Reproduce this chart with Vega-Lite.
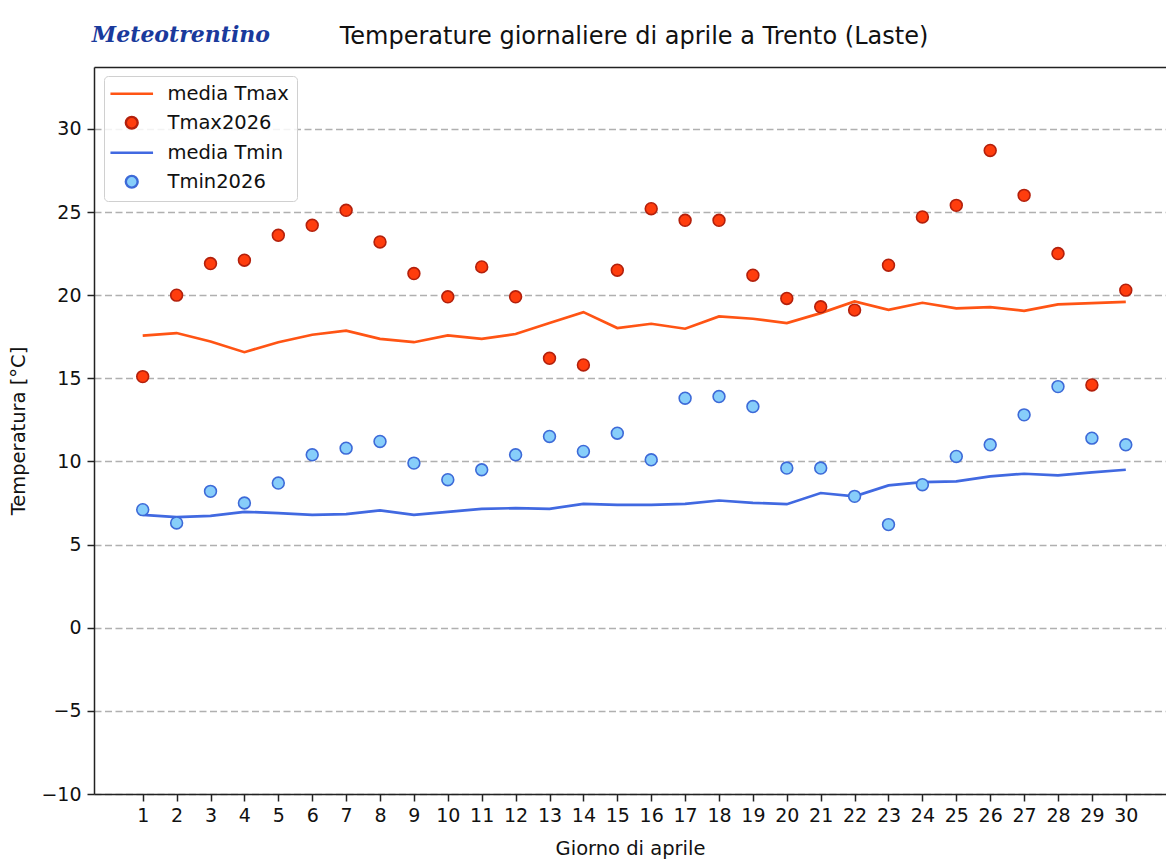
{
  "$schema": "https://vega.github.io/schema/vega-lite/v6.json",
  "autosize": {"type": "none"},
  "padding": {"left": 94, "top": 67, "right": 0, "bottom": 66},
  "width": 1072,
  "height": 727,
  "background": "white",
  "config": {
    "font": "DejaVu Sans",
    "view": {"stroke": null},
    "axis": {
      "labelFont": "DejaVu Sans",
      "labelFontSize": 19,
      "labelColor": "#111",
      "titleFont": "DejaVu Sans",
      "titleFontSize": 19.5,
      "titleFontWeight": "normal",
      "titleColor": "#111",
      "domainColor": "#222",
      "domainWidth": 1.5,
      "tickColor": "#222",
      "tickWidth": 1.5,
      "tickSize": 7
    },
    "legend": {
      "orient": "none",
      "labelFont": "DejaVu Sans",
      "labelFontSize": 19.5,
      "labelColor": "#111"
    }
  },
  "title": {
    "text": "Temperature giornaliere di aprile a Trento (Laste)",
    "fontSize": 24,
    "fontWeight": "normal",
    "font": "DejaVu Sans",
    "color": "#111",
    "frame": "group",
    "anchor": "middle",
    "baseline": "alphabetic",
    "dx": 4,
    "offset": -44
  },
  "data": {
    "values": [
      {"day": 1, "media Tmax": 17.56, "Tmax2026": 15.1, "media Tmin": 6.79, "Tmin2026": 7.1},
      {"day": 2, "media Tmax": 17.72, "Tmax2026": 20.0, "media Tmin": 6.65, "Tmin2026": 6.3},
      {"day": 3, "media Tmax": 17.21, "Tmax2026": 21.9, "media Tmin": 6.73, "Tmin2026": 8.2},
      {"day": 4, "media Tmax": 16.57, "Tmax2026": 22.1, "media Tmin": 6.97, "Tmin2026": 7.5},
      {"day": 5, "media Tmax": 17.17, "Tmax2026": 23.6, "media Tmin": 6.89, "Tmin2026": 8.7},
      {"day": 6, "media Tmax": 17.62, "Tmax2026": 24.2, "media Tmin": 6.79, "Tmin2026": 10.4},
      {"day": 7, "media Tmax": 17.86, "Tmax2026": 25.1, "media Tmin": 6.83, "Tmin2026": 10.8},
      {"day": 8, "media Tmax": 17.37, "Tmax2026": 23.2, "media Tmin": 7.05, "Tmin2026": 11.2},
      {"day": 9, "media Tmax": 17.17, "Tmax2026": 21.3, "media Tmin": 6.79, "Tmin2026": 9.9},
      {"day": 10, "media Tmax": 17.58, "Tmax2026": 19.9, "media Tmin": 6.97, "Tmin2026": 8.9},
      {"day": 11, "media Tmax": 17.37, "Tmax2026": 21.7, "media Tmin": 7.15, "Tmin2026": 9.5},
      {"day": 12, "media Tmax": 17.66, "Tmax2026": 19.9, "media Tmin": 7.19, "Tmin2026": 10.4},
      {"day": 13, "media Tmax": 18.32, "Tmax2026": 16.2, "media Tmin": 7.15, "Tmin2026": 11.5},
      {"day": 14, "media Tmax": 18.98, "Tmax2026": 15.8, "media Tmin": 7.45, "Tmin2026": 10.6},
      {"day": 15, "media Tmax": 18.02, "Tmax2026": 21.5, "media Tmin": 7.39, "Tmin2026": 11.7},
      {"day": 16, "media Tmax": 18.28, "Tmax2026": 25.2, "media Tmin": 7.39, "Tmin2026": 10.1},
      {"day": 17, "media Tmax": 17.98, "Tmax2026": 24.5, "media Tmin": 7.45, "Tmin2026": 13.8},
      {"day": 18, "media Tmax": 18.72, "Tmax2026": 24.5, "media Tmin": 7.65, "Tmin2026": 13.9},
      {"day": 19, "media Tmax": 18.58, "Tmax2026": 21.2, "media Tmin": 7.51, "Tmin2026": 13.3},
      {"day": 20, "media Tmax": 18.32, "Tmax2026": 19.8, "media Tmin": 7.43, "Tmin2026": 9.6},
      {"day": 21, "media Tmax": 18.92, "Tmax2026": 19.3, "media Tmin": 8.10, "Tmin2026": 9.6},
      {"day": 22, "media Tmax": 19.62, "Tmax2026": 19.1, "media Tmin": 7.90, "Tmin2026": 7.9},
      {"day": 23, "media Tmax": 19.12, "Tmax2026": 21.8, "media Tmin": 8.56, "Tmin2026": 6.2},
      {"day": 24, "media Tmax": 19.54, "Tmax2026": 24.7, "media Tmin": 8.76, "Tmin2026": 8.6},
      {"day": 25, "media Tmax": 19.20, "Tmax2026": 25.4, "media Tmin": 8.80, "Tmin2026": 10.3},
      {"day": 26, "media Tmax": 19.28, "Tmax2026": 28.7, "media Tmin": 9.10, "Tmin2026": 11.0},
      {"day": 27, "media Tmax": 19.06, "Tmax2026": 26.0, "media Tmin": 9.26, "Tmin2026": 12.8},
      {"day": 28, "media Tmax": 19.44, "Tmax2026": 22.5, "media Tmin": 9.16, "Tmin2026": 14.5},
      {"day": 29, "media Tmax": 19.52, "Tmax2026": 14.6, "media Tmin": 9.34, "Tmin2026": 11.4},
      {"day": 30, "media Tmax": 19.60, "Tmax2026": 20.3, "media Tmin": 9.50, "Tmin2026": 11.0}
    ]
  },
  "transform": [
    {"fold": ["media Tmax", "Tmax2026", "media Tmin", "Tmin2026"], "as": ["series", "value"]}
  ],
  "resolve": {"axis": {"x": "independent"}},
  "layer": [
    {
      "transform": [{"filter": {"field": "series", "oneOf": ["media Tmax", "media Tmin"]}}],
      "mark": {"type": "line", "strokeWidth": 2.7, "clip": false},
      "encoding": {
        "x": {
          "field": "day", "type": "quantitative",
          "scale": {"domain": [-0.437, 31.186], "nice": false, "zero": false},
          "axis": {
            "values": [1,2,3,4,5,6,7,8,9,10,11,12,13,14,15,16,17,18,19,20,21,22,23,24,25,26,27,28,29,30],
            "grid": false, "title": "Giorno di aprile", "labelPadding": 5, "titlePadding": 14, "labelFlush": false
          }
        },
        "y": {
          "field": "value", "type": "quantitative",
          "scale": {"domain": [-10, 33.72], "nice": false, "zero": false},
          "axis": {
            "values": [-10, -5, 0, 5, 10, 15, 20, 25, 30],
            "title": "Temperatura [°C]",
            "grid": true, "gridColor": "#b0b0b0", "gridWidth": 1.4, "gridDash": [7, 3.5],
            "labelPadding": 6, "titlePadding": 12, "labelFlush": false
          }
        },
        "stroke": {
          "field": "series", "type": "nominal",
          "scale": {
            "type": "ordinal",
            "domain": ["media Tmax", "Tmax2026", "media Tmin", "Tmin2026"],
            "range": ["#ff5414", "#b3200c", "#4169e1", "#3d6ad8"]
          },
          "legend": {"title": null, "orient": "none", "legendX": 10, "legendY": 9}
        }
      }
    },
    {
      "transform": [{"filter": {"field": "series", "oneOf": ["Tmax2026", "Tmin2026"]}}],
      "mark": {"type": "point", "filled": true, "opacity": 1, "strokeWidth": 1.6, "size": 140, "clip": false},
      "encoding": {
        "x": {"field": "day", "type": "quantitative", "axis": null},
        "y": {"field": "value", "type": "quantitative"},
        "fill": {
          "field": "series", "type": "nominal",
          "scale": {
            "type": "ordinal",
            "domain": ["media Tmax", "Tmax2026", "media Tmin", "Tmin2026"],
            "range": ["#ff5414", "#ff3d0d", "#4169e1", "#87cefa"]
          },
          "legend": {
            "title": null, "orient": "none", "legendX": 10, "legendY": 9,
            "fillColor": "rgba(255,255,255,0.85)", "strokeColor": "#d0d0d0", "cornerRadius": 4,
            "padding": 8, "rowPadding": 8, "symbolSize": 140, "symbolStrokeWidth": 2.4,
            "symbolOffset": 10, "labelOffset": 26
          }
        },
        "stroke": {"field": "series", "type": "nominal", "legend": {"title": null, "orient": "none", "legendX": 10, "legendY": 9}},
        "shape": {
          "field": "series", "type": "nominal",
          "scale": {
            "type": "ordinal",
            "domain": ["media Tmax", "Tmax2026", "media Tmin", "Tmin2026"],
            "range": ["M-3.6,0H3.6", "circle", "M-3.6,0H3.6", "circle"]
          },
          "legend": {"title": null, "orient": "none", "legendX": 10, "legendY": 9}
        }
      }
    },
    {
      "data": {"values": [{"logo": "Meteotrentino"}]},
      "mark": {"type": "text", "align": "left", "baseline": "alphabetic", "font": "DejaVu Serif", "fontStyle": "italic", "fontWeight": "bold", "fontSize": 22, "color": "#1a3a9c", "clip": false},
      "encoding": {
        "x": {"datum": -0.5, "type": "quantitative", "axis": {"orient": "top", "labels": false, "ticks": false, "grid": false, "domain": true, "title": null}},
        "y": {"datum": 35.2, "type": "quantitative"},
        "text": {"field": "logo"}
      }
    }
  ]
}
